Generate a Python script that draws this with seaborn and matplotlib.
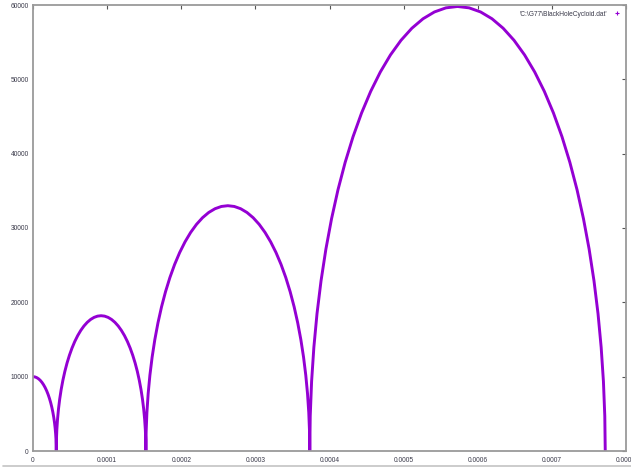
import matplotlib
matplotlib.use("Agg")
import matplotlib.pyplot as plt
from matplotlib.lines import Line2D
import numpy as np
import pandas as pd
import seaborn as sns

# ---- data (x in units of 1e-6) ----
arc0_x = [0.0, 2.46, 4.91, 7.33, 9.70, 12.02, 14.26, 16.41, 18.46, 20.39, 22.20, 23.88,
          25.40, 26.77, 27.98, 29.01, 29.86, 30.53, 31.01, 31.30, 31.4]
arc0_y = [10000, 9969, 9877, 9724, 9511, 9239, 8910, 8526, 8090, 7604, 7071, 6495,
          5878, 5225, 4540, 3827, 3090, 2335, 1564, 785, 0]

arc1_x = [31.4, 31.59, 32.14, 33.07, 34.36, 36.00, 37.99, 40.31, 42.95, 45.88, 49.11,
          52.59, 56.32, 60.27, 64.41, 68.72, 73.17, 77.74, 82.39, 87.11, 91.85,
          96.59, 101.31, 105.96, 110.53, 114.98, 119.29, 123.44, 127.38, 131.11, 134.59,
          137.82, 140.76, 143.39, 145.71, 147.70, 149.34, 150.63, 151.56, 152.11, 152.3]
arc1_y = [0, 1428, 2847, 4249, 5624, 6965, 8263, 9510, 10698, 11820, 12869,
          13839, 14724, 15518, 16216, 16815, 17309, 17697, 17976, 18144, 18200,
          18144, 17976, 17697, 17309, 16815, 16216, 15518, 14724, 13839, 12869,
          11820, 10698, 9510, 8263, 6965, 5624, 4249, 2847, 1428, 0]

arc2_x = [152.3, 152.64, 153.66, 155.35, 157.71, 160.72, 164.35, 168.59, 173.41, 178.79, 184.68,
          191.05, 197.87, 205.09, 212.66, 220.55, 228.69, 237.04, 245.56, 254.18, 262.85,
          271.52, 280.14, 288.66, 297.01, 305.16, 313.04, 320.61, 327.83, 334.65, 341.02,
          346.91, 352.29, 357.11, 361.35, 364.99, 367.99, 370.35, 372.04, 373.06, 373.4]
arc2_y = [0, 2589, 5162, 7704, 10198, 12628, 14982, 17243, 19397, 21432, 23335,
          25094, 26698, 28137, 29403, 30488, 31385, 32088, 32594, 32898, 33000,
          32898, 32594, 32088, 31385, 30488, 29403, 28137, 26698, 25094, 23335,
          21432, 19397, 17243, 14982, 12628, 10198, 7704, 5162, 2589, 0]

arc3_x = [373.4, 374.01, 375.85, 378.91, 383.15, 388.57, 395.12, 402.77, 411.46, 421.15, 431.78,
          443.27, 455.56, 468.57, 482.22, 496.43, 511.11, 526.18, 541.53, 557.06, 572.70,
          588.34, 603.88, 619.23, 634.29, 648.97, 663.18, 676.83, 689.84, 702.13, 713.63,
          724.25, 733.94, 742.63, 750.28, 756.83, 762.25, 766.49, 769.55, 771.39, 772.0]
arc3_y = [0, 4692, 9355, 13960, 18479, 22884, 27149, 31246, 35150, 38837, 42285,
          45473, 48379, 50988, 53282, 55248, 56873, 58148, 59064, 59616, 59800,
          59616, 59064, 58148, 56873, 55248, 53282, 50988, 48379, 45473, 42285,
          38837, 35150, 31246, 27149, 22884, 18479, 13960, 9355, 4692, 0]

x_ticks = [0, 0.0001, 0.0002, 0.0003, 0.0004, 0.0005, 0.0006, 0.0007, 0.0008]
x_tick_labels = ["0", "0.0001", "0.0002", "0.0003", "0.0004", "0.0005", "0.0006", "0.0007", "0.0008"]
y_ticks = [0, 10000, 20000, 30000, 40000, 50000, 60000]
y_tick_labels = ["0", "10000", "20000", "30000", "40000", "50000", "60000"]
series_label = "'C:\\G77\\BlackHoleCycloid.dat'"

# ---- build table ----
xs = np.array(arc0_x + arc1_x + arc2_x + arc3_x) * 1e-6
ys = np.array(arc0_y + arc1_y + arc2_y + arc3_y, dtype=float)
df = pd.DataFrame({"x": xs, "y": ys})

sns.set_style("white")
plt.rcParams["font.family"] = ["Liberation Sans", "DejaVu Sans"]

purple = "#9400D3"
text_col = "#3a3a4a"
axis_col = "#9a9a9a"

fig = plt.figure(figsize=(6.31, 4.72), dpi=100)
ax = fig.add_axes([33 / 631, 1 - 451 / 472, (626 - 33) / 631, (451 - 5) / 472])

sns.lineplot(data=df, x="x", y="y", sort=False, estimator=None, ax=ax,
             color=purple, linewidth=2.1, legend=False,
             solid_joinstyle="round", solid_capstyle="round")

ax.set_xlim(0, 0.0008)
ax.set_ylim(0, 60000)
ax.set_xticks(x_ticks)
ax.set_xticklabels(x_tick_labels)
ax.set_yticks(y_ticks)
ax.set_yticklabels(y_tick_labels)
ax.set_xlabel("")
ax.set_ylabel("")
ax.tick_params(direction="in", top=True, right=True, length=3, width=0.8,
               color="#555555", labelsize=4.8, labelcolor=text_col)
ax.tick_params(axis="x", pad=4)
ax.tick_params(axis="y", pad=3)
for sp in ax.spines.values():
    sp.set_color(axis_col)
    sp.set_linewidth(1.3)

handle = Line2D([], [], marker="+", linestyle="none", color=purple, markersize=3.5, markeredgewidth=0.8)
leg = ax.legend([handle], [series_label], loc="upper right", frameon=False,
                markerfirst=False, fontsize=4.8, handlelength=1.0, handletextpad=1.0,
                borderaxespad=0.45)
for t in leg.get_texts():
    t.set_color(text_col)

# window border line at bottom
fig.add_artist(Line2D([3 / 631, 1.0], [1 - 466 / 472, 1 - 466 / 472],
                      color="#c4c4c4", linewidth=1.2, transform=fig.transFigure))

fig.savefig("out.png", dpi=100, facecolor="white")
